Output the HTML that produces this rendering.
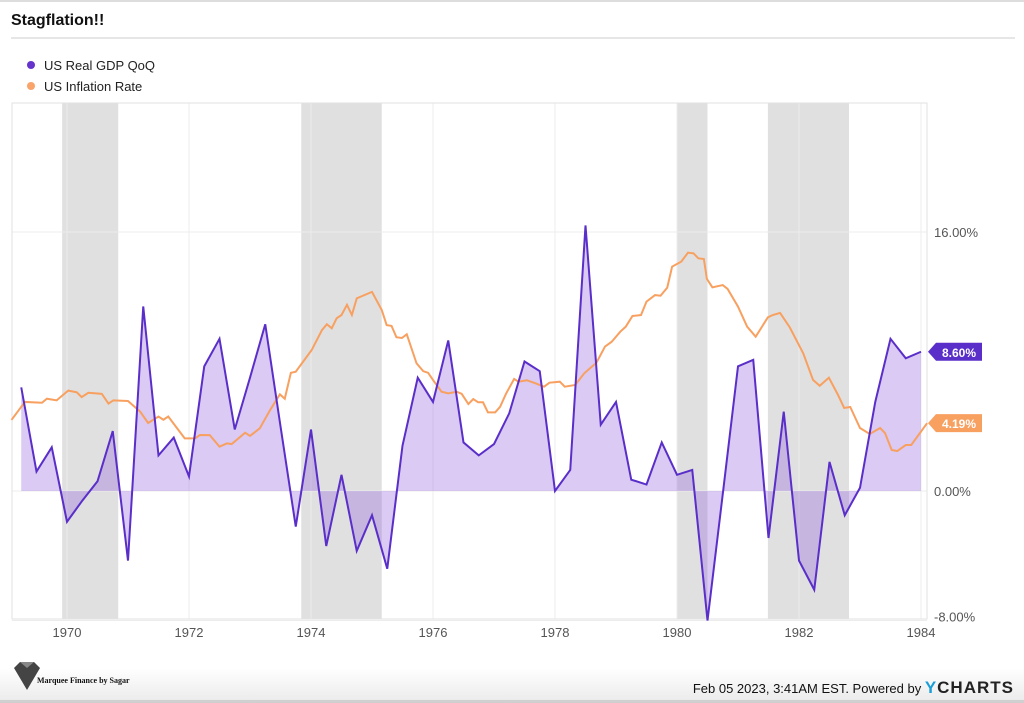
<!DOCTYPE html>
<html><head><meta charset="utf-8"><style>
body{margin:0;width:1024px;height:703px;overflow:hidden;background:#fff;font-family:"Liberation Sans",sans-serif;position:relative}
.t{position:absolute;left:11px;top:12px;font-weight:bold;font-size:16px;color:#111}
.hr{position:absolute;left:11px;right:9px;top:37px;height:2px;background:#e6e6e6}
.top{position:absolute;left:0;right:0;top:0;height:2px;background:#ddd}
.leg{position:absolute;left:27px;font-size:13px;color:#222}
.dot{display:inline-block;width:8px;height:8px;border-radius:50%;margin-right:9px;vertical-align:1px}
.foot{position:absolute;left:0;right:0;top:668px;height:32px;background:linear-gradient(#fff,#ececec);border-bottom:3px solid #cfcfcf}
</style></head><body>
<div class="top"></div>
<div class="t">Stagflation!!</div>
<div class="hr"></div>
<div class="leg" style="top:58px"><span class="dot" style="background:#6633cc"></span>US Real GDP QoQ</div>
<div class="leg" style="top:79px"><span class="dot" style="background:#f8a46a"></span>US Inflation Rate</div>
<div class="foot"></div>
<div style="position:absolute;left:12px;top:660px;width:30px;height:32px"><svg width="30" height="32"><polygon points="2,8 8,2 22,2 28,8 15,30" fill="#444"/><polygon points="8,2 22,2 15,8" fill="#888"/></svg></div>
<div style="position:absolute;left:37px;top:676px;font-family:'Liberation Serif',serif;font-weight:bold;font-size:8px;color:#111">Marquee Finance by Sagar</div>
<div style="position:absolute;right:10px;top:678px;font-size:13px;color:#111;white-space:nowrap">Feb 05 2023, 3:41AM EST. Powered by <span style="font-weight:bold;font-size:17px;letter-spacing:1px;color:#222"><span style="color:#1a9ed8">Y</span>CHARTS</span></div>
<svg id="c" width="1024" height="703" style="position:absolute;left:0;top:0"></svg>
<script>
const gdpValues=[6.4,1.2,2.7,-1.9,-0.6,0.6,3.7,-4.3,11.4,2.2,3.3,0.9,7.7,9.4,3.8,7.0,10.3,4.0,-2.2,3.8,-3.4,1.0,-3.7,-1.5,-4.8,2.8,7.0,5.5,9.3,3.0,2.2,2.9,4.8,8.0,7.4,0.0,1.3,16.4,4.1,5.5,0.7,0.4,3.0,1.0,1.3,-8.0,-0.2,7.7,8.1,-2.9,4.9,-4.3,-6.1,1.8,-1.5,0.2,5.5,9.4,8.2,8.6];
const gdpStart=1969.25;
const infDates=[1969.09,1969.31,1969.59,1969.67,1969.83,1970.02,1970.16,1970.24,1970.35,1970.57,1970.68,1970.76,1971.0,1971.2,1971.33,1971.5,1971.58,1971.66,1971.8,1971.93,1972.1,1972.18,1972.34,1972.5,1972.62,1972.7,1972.92,1973.0,1973.16,1973.33,1973.49,1973.57,1973.67,1973.75,1974.01,1974.18,1974.26,1974.34,1974.42,1974.5,1974.59,1974.67,1974.75,1975.0,1975.16,1975.24,1975.32,1975.4,1975.49,1975.57,1975.73,1975.84,1975.92,1976.0,1976.14,1976.25,1976.39,1976.47,1976.58,1976.66,1976.74,1976.82,1976.9,1977.02,1977.1,1977.2,1977.33,1977.4,1977.54,1977.68,1977.82,1977.91,1978.08,1978.16,1978.33,1978.48,1978.68,1978.82,1978.93,1979.07,1979.16,1979.27,1979.41,1979.5,1979.64,1979.73,1979.84,1979.92,1980.07,1980.18,1980.27,1980.35,1980.44,1980.49,1980.58,1980.75,1980.83,1981.0,1981.15,1981.29,1981.49,1981.57,1981.69,1981.85,1982.07,1982.23,1982.34,1982.49,1982.64,1982.74,1982.84,1983.0,1983.16,1983.33,1983.41,1983.52,1983.61,1983.75,1983.84,1984.1];
const infValues=[4.39,5.5,5.45,5.7,5.6,6.2,6.1,5.8,6.07,6.0,5.4,5.6,5.56,4.9,4.2,4.6,4.4,4.6,3.9,3.25,3.25,3.46,3.45,2.74,2.94,2.9,3.6,3.4,3.87,5.0,5.97,5.7,7.3,7.37,8.7,9.94,10.3,10.05,10.67,10.87,11.5,10.87,11.9,12.3,11.18,10.25,10.2,9.5,9.45,9.68,7.89,7.4,7.3,6.86,6.13,6.03,6.13,6.0,5.37,5.68,5.48,5.48,4.86,4.86,5.2,6.03,6.92,6.75,6.84,6.65,6.44,6.69,6.75,6.44,6.55,7.27,7.93,8.92,9.22,9.84,10.15,10.81,10.87,11.7,12.1,12.06,12.56,13.86,14.17,14.72,14.68,14.37,14.33,13.1,12.58,12.72,12.48,11.39,10.15,9.53,10.73,10.87,11.0,10.1,8.5,6.86,6.5,7.0,5.93,5.13,5.19,3.89,3.52,3.89,3.58,2.53,2.47,2.84,2.84,4.19];
const recStart=[1969.92,1973.84,1980.0,1981.49];
const recEnd=[1970.84,1975.16,1980.5,1982.82];
const xTicks=[1970,1972,1974,1976,1978,1980,1982,1984];
const yTicks=[-8,0,16];
const yLabels=["-8.00%","0.00%","16.00%"];
const X=y=>67+(y-1970)*61, Y=v=>491-v*16.19;
const L=12,R=927,T=103,B=619;
const s=document.getElementById('c'),ns='http://www.w3.org/2000/svg';
function mk(t,a,p){const e=document.createElementNS(ns,t);for(const k in a)e.setAttribute(k,a[k]);(p||s).appendChild(e);return e;}
for(let i=0;i<recStart.length;i++){const r=mk('rect',{x:X(recStart[i]),y:T,width:X(recEnd[i])-X(recStart[i]),height:B-T,fill:'#e0e0e0'});

}
for(const t of xTicks){const g=mk('line',{x1:X(t),x2:X(t),y1:T,y2:B,stroke:'#ececec'});


const tx=mk('text',{x:X(t),y:637,'text-anchor':'middle','font-size':13,fill:'#555','font-family':'Liberation Sans'});tx.textContent=t;

}
yTicks.forEach((v,i)=>{const g=mk('line',{x1:L,x2:R,y1:Y(v),y2:Y(v),stroke:'#ececec'});


const tx=mk('text',{x:934,y:Y(v)+(v==-8?1:5),'font-size':13,fill:'#555','font-family':'Liberation Sans'});tx.textContent=yLabels[i];

});
const fr=mk('rect',{x:L,y:T,width:R-L,height:B-T,fill:'none',stroke:'#e2e2e2'});


const gx=i=>X(gdpStart+i*0.25);
let pts=gdpValues.map((v,i)=>gx(i)+','+Y(v)).join(' ');
const area=mk('polygon',{points:gx(0)+','+Y(0)+' '+pts+' '+gx(gdpValues.length-1)+','+Y(0),fill:'rgba(140,90,220,0.32)'});


const inf=mk('polyline',{points:infDates.map((d,i)=>X(d)+','+Y(infValues[i])).join(' '),fill:'none',stroke:'#f8a060','stroke-width':2});


const gl=mk('polyline',{points:pts,fill:'none',stroke:'#5a2ec8','stroke-width':2,'stroke-linejoin':'miter'});


function badge(v,c,name){const y=Y(v);const p=mk('polygon',{points:`${R+1},${y} ${R+9},${y-9} ${R+55},${y-9} ${R+55},${y+9} ${R+9},${y+9}`,fill:c});


const t=mk('text',{x:R+32,y:y+5,'text-anchor':'middle','font-size':12,'font-weight':'bold',fill:'#fff','font-family':'Liberation Sans'});t.textContent=v.toFixed(2)+'%';

}
badge(gdpValues[gdpValues.length-1],'#5a2ec8','gdp-last-value');
badge(infValues[infValues.length-1],'#f8a060','inflation-last-value');
</script>
</body></html>
